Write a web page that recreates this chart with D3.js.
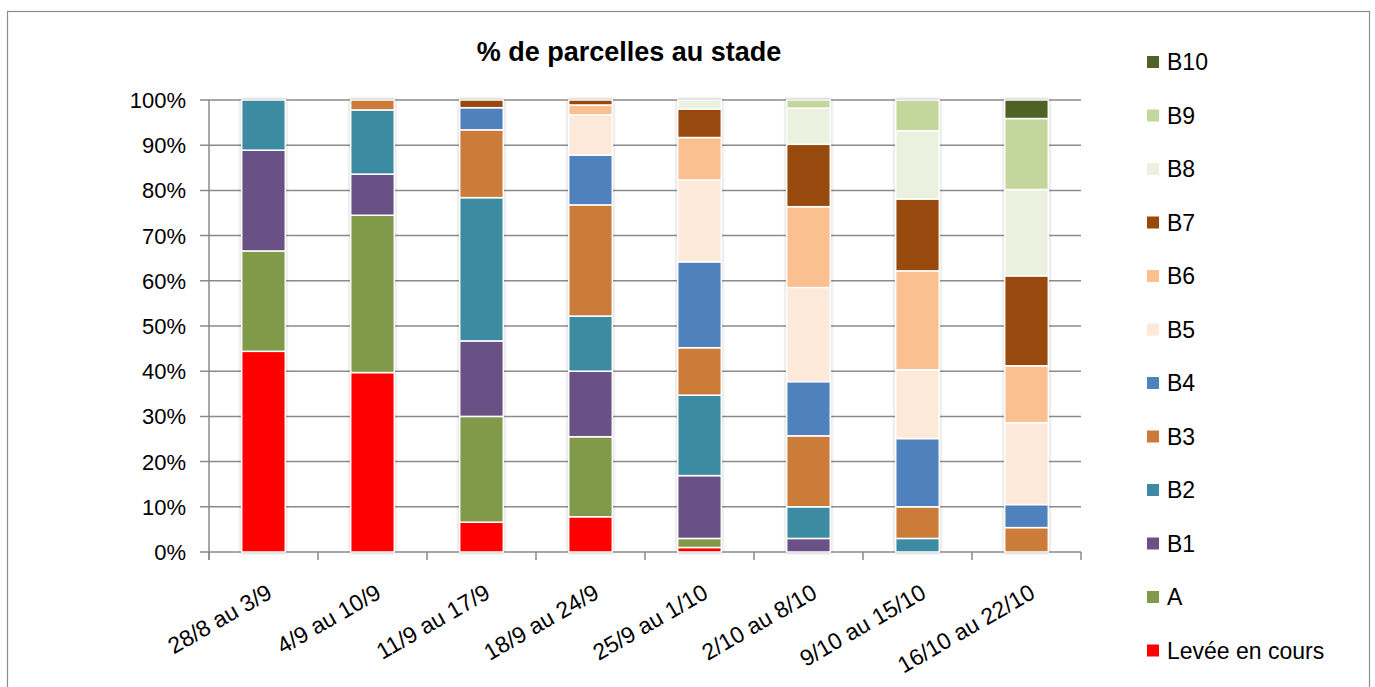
<!DOCTYPE html>
<html>
<head>
<meta charset="utf-8">
<script src="https://cdn.jsdelivr.net/npm/d3@7"></script>
<style>
  body { margin: 0; background: #fff; }
  svg { font-family: "Liberation Sans", Arial, sans-serif; }
</style>
</head>
<body>
<div id="chart"></div>
<script>
// weeks
var periods = ["28/8 au 3/9", "4/9 au 10/9", "11/9 au 17/9", "18/9 au 24/9",
  "25/9 au 1/10", "2/10 au 8/10", "9/10 au 15/10", "16/10 au 22/10"];

// stages, bottom to top
var stages = ["Levée en cours", "A", "B1", "B2", "B3", "B4", "B5", "B6", "B7", "B8", "B9", "B10"];

// % per stage, one value per period
var levee = [44.4, 39.7, 6.6, 7.8, 1.0, 0, 0, 0];
var stA   = [22.2, 34.8, 23.4, 17.7, 2.0, 0, 0, 0];
var stB1  = [22.3, 9.1, 16.7, 14.5, 13.9, 3.0, 0, 0];
var stB2  = [11.1, 14.2, 31.7, 12.2, 17.8, 7.0, 3.0, 0];
var stB3  = [0, 2.2, 15.0, 24.6, 10.5, 15.7, 7.0, 5.4];
var stB4  = [0, 0, 4.9, 11.0, 19.0, 12.0, 15.1, 5.1];
var stB5  = [0, 0, 0, 8.9, 18.1, 20.8, 15.2, 18.1];
var stB6  = [0, 0, 0, 2.2, 9.4, 17.9, 21.9, 12.6];
var stB7  = [0, 0, 1.7, 1.1, 6.3, 13.8, 15.9, 19.9];
var stB8  = [0, 0, 0, 0, 2.0, 8.0, 15.1, 19.1];
var stB9  = [0, 0, 0, 0, 0, 1.8, 6.8, 15.7];
var stB10 = [0, 0, 0, 0, 0, 0, 0, 4.1];

var yTicks = [0, 10, 20, 30, 40, 50, 60, 70, 80, 90, 100];

var colors = ["#ff0000", "#809a4a", "#6a5185", "#3c8ba3", "#cb7b39", "#4f81bd",
  "#fde9d9", "#fac090", "#984807", "#ebf1de", "#c3d69b", "#4f6228"];

var series = [levee, stA, stB1, stB2, stB3, stB4, stB5, stB6, stB7, stB8, stB9, stB10];

// rows for d3.stack
var rows = periods.map(function(p, i){
  var r = { period: p };
  stages.forEach(function(s, j){ r[s] = series[j][i]; });
  return r;
});

var W = 1375, H = 687;
var plotLeft = 209, plotRight = 1081, plotTop = 100, plotBottom = 552;

var svg = d3.select("#chart").append("svg")
  .attr("width", W)
  .attr("height", H);

var defs = svg.append("defs");
var f = defs.append("filter").attr("id", "shadow")
  .attr("x", "-20%").attr("y", "-20%").attr("width", "140%").attr("height", "140%");
f.append("feDropShadow")
  .attr("dx", 0).attr("dy", 0)
  .attr("stdDeviation", 1.6)
  .attr("flood-color", "#000")
  .attr("flood-opacity", 0.35);

// outer frame
svg.append("rect")
  .attr("x", 7.5).attr("y", 11.5)
  .attr("width", 1362).attr("height", 700)
  .style("fill", "none")
  .style("stroke", "#8c8c8c")
  .style("stroke-width", 1.2);

var x = d3.scaleBand()
  .domain(periods)
  .range([plotLeft, plotRight])
  .paddingInner(0.6)
  .paddingOuter(0.3);

var y = d3.scaleLinear()
  .domain([0, 100])
  .range([plotBottom, plotTop]);

// gridlines
svg.append("g")
  .selectAll("line")
  .data(yTicks)
  .enter()
  .append("line")
  .attr("x1", plotLeft - 9)
  .attr("x2", plotRight)
  .attr("y1", function(d){ return y(d); })
  .attr("y2", function(d){ return y(d); })
  .style("stroke", "#8a8a8a")
  .style("stroke-width", 1.5);

// y axis line
svg.append("line")
  .attr("x1", plotLeft).attr("x2", plotLeft)
  .attr("y1", plotTop).attr("y2", plotBottom + 8)
  .style("stroke", "#8a8a8a")
  .style("stroke-width", 1.5);

// x ticks at category boundaries
var step = x.step();
var tickXs = d3.range(periods.length + 1).map(function(i){ return plotLeft + i * step; });
svg.append("g")
  .selectAll("line")
  .data(tickXs)
  .enter()
  .append("line")
  .attr("x1", function(d){ return d; })
  .attr("x2", function(d){ return d; })
  .attr("y1", plotBottom)
  .attr("y2", plotBottom + 8)
  .style("stroke", "#8a8a8a")
  .style("stroke-width", 1.5);

// y labels
svg.append("g")
  .selectAll("text")
  .data(yTicks)
  .enter()
  .append("text")
  .attr("x", 186)
  .attr("y", function(d){ return y(d); })
  .attr("dy", "0.36em")
  .attr("text-anchor", "end")
  .style("font-size", "22px")
  .style("fill", "#000")
  .text(function(d){ return d + "%"; });

// bars
var stacked = d3.stack().keys(stages)(rows);

var layers = svg.append("g").attr("filter", "url(#shadow)")
  .selectAll("g")
  .data(stacked)
  .enter()
  .append("g")
  .style("fill", function(d, i){ return colors[i]; });

layers.selectAll("rect")
  .data(function(d){ return d.filter(function(v){ return v[1] - v[0] > 0; }); })
  .enter()
  .append("rect")
  .attr("x", function(d){ return x(d.data.period); })
  .attr("width", x.bandwidth())
  .attr("y", function(d){ return y(d[1]); })
  .attr("height", function(d){ return y(d[0]) - y(d[1]); })
  .style("stroke", "#fff")
  .style("stroke-width", 1.5);

// x labels
svg.append("g")
  .selectAll("text")
  .data(periods)
  .enter()
  .append("text")
  .attr("transform", function(d){
    return "translate(" + (x(d) + x.bandwidth() / 2 + 10) + "," + 597 + ") rotate(-30)";
  })
  .attr("text-anchor", "end")
  .style("font-size", "23px")
  .style("fill", "#000")
  .text(function(d){ return d; });

// title
svg.append("text")
  .attr("x", 629)
  .attr("y", 61)
  .attr("text-anchor", "middle")
  .style("font-size", "27px")
  .style("font-weight", "bold")
  .style("fill", "#000")
  .text("% de parcelles au stade");

// legend, top = last stage
var legendItems = stages.slice().reverse();
var leg = svg.append("g")
  .selectAll("g")
  .data(legendItems)
  .enter()
  .append("g")
  .attr("transform", function(d, i){ return "translate(1147," + (62 + i * 53.5) + ")"; });

leg.append("rect")
  .attr("x", 0).attr("y", -6)
  .attr("width", 12).attr("height", 12)
  .style("fill", function(d){ return colors[stages.indexOf(d)]; });

leg.append("text")
  .attr("x", 20)
  .attr("dy", "0.36em")
  .style("font-size", "23px")
  .style("fill", "#000")
  .text(function(d){ return d; });
</script>
</body>
</html>
